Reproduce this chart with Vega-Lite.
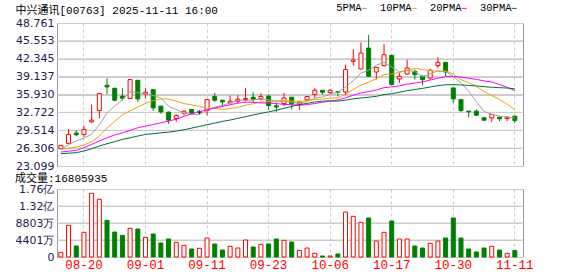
{
  "$schema": "https://vega.github.io/schema/vega-lite/v6.json",
  "background": "white",
  "padding": {"left": 14, "top": 3, "right": 4, "bottom": 0},
  "spacing": 0,
  "config": {
    "view": {"stroke": "#999999", "strokeWidth": 1},
    "axis": {"gridColor": "#cccccc", "gridWidth": 1, "labelFont": "DejaVu Sans", "labelFontSize": 11, "labelColor": "#1c1c4c", "labelOverlap": false},
    "line": {"strokeWidth": 1}
  },
  "datasets": {
    "pg": [{"p": 26.306}, {"p": 29.514}, {"p": 32.722}, {"p": 35.93}, {"p": 39.137}, {"p": 42.345}, {"p": 45.553}],
    "vg": [{"q": 44014000}, {"q": 88028000}, {"q": 132042000}],
    "k": [
      {"d":"08-15","o":26.2,"h":26.85,"l":26.15,"c":26.8,"v":12080000,"5PMA":26.2,"10PMA":26.08,"20PMA":25.61,"30PMA":25.31},
      {"d":"08-18","o":27.16,"h":29.72,"l":27.1,"c":28.77,"v":81990000,"5PMA":26.9,"10PMA":26.3,"20PMA":25.75,"30PMA":25.4},
      {"d":"08-19","o":29.0,"h":29.54,"l":28.47,"c":28.71,"v":28480000,"5PMA":27.6,"10PMA":26.5,"20PMA":25.9,"30PMA":25.49},
      {"d":"08-20","o":28.77,"h":30.32,"l":28.29,"c":29.66,"v":63870000,"5PMA":28.1,"10PMA":26.86,"20PMA":26.38,"30PMA":25.79},
      {"d":"08-21","o":31.03,"h":34.13,"l":30.85,"c":31.33,"v":164840000,"5PMA":28.8,"10PMA":27.46,"20PMA":26.98,"30PMA":26.2},
      {"d":"08-22","o":33.06,"h":36.2,"l":31.63,"c":36.1,"v":149300000,"5PMA":30.5,"10PMA":28.47,"20PMA":27.57,"30PMA":26.68},
      {"d":"08-25","o":37.59,"h":38.84,"l":36.04,"c":37.29,"v":94940000,"5PMA":32.6,"10PMA":29.9,"20PMA":28.17,"30PMA":27.1},
      {"d":"08-26","o":37.05,"h":37.1,"l":34.73,"c":34.9,"v":64720000,"5PMA":33.86,"10PMA":31.1,"20PMA":28.65,"30PMA":27.46},
      {"d":"08-27","o":35.62,"h":37.05,"l":34.85,"c":35.26,"v":56100000,"5PMA":34.98,"10PMA":32.3,"20PMA":29.06,"30PMA":27.87},
      {"d":"08-28","o":35.2,"h":38.65,"l":35.15,"c":38.6,"v":74220000,"5PMA":36.43,"10PMA":33.0,"20PMA":29.48,"30PMA":28.17},
      {"d":"08-29","o":38.48,"h":38.5,"l":34.61,"c":35.14,"v":72490000,"5PMA":36.24,"10PMA":33.7,"20PMA":29.96,"30PMA":28.47},
      {"d":"09-01","o":35.98,"h":37.05,"l":35.2,"c":36.34,"v":50920000,"5PMA":36.05,"10PMA":34.33,"20PMA":30.26,"30PMA":28.77},
      {"d":"09-02","o":36.81,"h":36.85,"l":33.0,"c":33.53,"v":59550000,"5PMA":35.77,"10PMA":34.82,"20PMA":30.55,"30PMA":28.89},
      {"d":"09-03","o":33.83,"h":33.95,"l":32.46,"c":32.82,"v":36250000,"5PMA":35.29,"10PMA":35.13,"20PMA":30.85,"30PMA":29.06},
      {"d":"09-04","o":32.76,"h":32.88,"l":30.67,"c":31.33,"v":46600000,"5PMA":33.83,"10PMA":35.13,"20PMA":31.15,"30PMA":29.18},
      {"d":"09-05","o":31.63,"h":32.34,"l":31.03,"c":32.16,"v":37970000,"5PMA":33.24,"10PMA":34.74,"20PMA":31.5,"30PMA":29.36},
      {"d":"09-08","o":32.58,"h":33.06,"l":32.16,"c":32.94,"v":30200000,"5PMA":32.56,"10PMA":34.3,"20PMA":32.0,"30PMA":29.6},
      {"d":"09-09","o":33.24,"h":33.3,"l":32.4,"c":32.58,"v":20710000,"5PMA":32.37,"10PMA":34.07,"20PMA":32.45,"30PMA":29.9},
      {"d":"09-10","o":32.8,"h":33.12,"l":32.34,"c":32.8,"v":22440000,"5PMA":32.36,"10PMA":33.82,"20PMA":32.85,"30PMA":30.2},
      {"d":"09-11","o":33.06,"h":35.14,"l":32.22,"c":35.02,"v":49190000,"5PMA":33.1,"10PMA":33.47,"20PMA":33.2,"30PMA":30.5},
      {"d":"09-12","o":35.56,"h":36.22,"l":34.61,"c":34.9,"v":33660000,"5PMA":33.65,"10PMA":33.44,"20PMA":33.51,"30PMA":30.8},
      {"d":"09-15","o":34.9,"h":34.95,"l":33.77,"c":34.61,"v":18120000,"5PMA":33.98,"10PMA":33.27,"20PMA":33.8,"30PMA":31.1},
      {"d":"09-16","o":34.43,"h":35.74,"l":34.37,"c":34.73,"v":27620000,"5PMA":34.41,"10PMA":33.39,"20PMA":34.1,"30PMA":31.35},
      {"d":"09-17","o":34.73,"h":35.8,"l":34.43,"c":35.08,"v":23300000,"5PMA":34.87,"10PMA":33.62,"20PMA":34.37,"30PMA":31.65},
      {"d":"09-18","o":35.02,"h":37.11,"l":34.73,"c":35.2,"v":44010000,"5PMA":34.9,"10PMA":34.0,"20PMA":34.57,"30PMA":31.95},
      {"d":"09-19","o":35.44,"h":36.34,"l":34.55,"c":35.08,"v":25890000,"5PMA":34.94,"10PMA":34.29,"20PMA":34.52,"30PMA":32.25},
      {"d":"09-22","o":35.14,"h":36.16,"l":34.85,"c":35.56,"v":32800000,"5PMA":35.13,"10PMA":34.56,"20PMA":34.43,"30PMA":32.55},
      {"d":"09-23","o":35.62,"h":35.92,"l":33.24,"c":33.96,"v":33660000,"5PMA":34.98,"10PMA":34.69,"20PMA":34.38,"30PMA":32.8},
      {"d":"09-24","o":33.9,"h":34.5,"l":32.8,"c":33.7,"v":46600000,"5PMA":34.7,"10PMA":34.78,"20PMA":34.3,"30PMA":33.1},
      {"d":"09-25","o":34.31,"h":36.21,"l":33.83,"c":35.31,"v":43150000,"5PMA":34.72,"10PMA":34.81,"20PMA":34.14,"30PMA":33.45},
      {"d":"09-26","o":35.44,"h":35.5,"l":33.24,"c":34.25,"v":38840000,"5PMA":34.56,"10PMA":34.75,"20PMA":34.1,"30PMA":33.8},
      {"d":"09-29","o":34.2,"h":34.73,"l":33.18,"c":34.55,"v":17260000,"5PMA":34.35,"10PMA":34.74,"20PMA":34.01,"30PMA":34.11},
      {"d":"09-30","o":34.96,"h":35.6,"l":34.67,"c":35.56,"v":23300000,"5PMA":34.67,"10PMA":34.83,"20PMA":34.11,"30PMA":34.34},
      {"d":"10-02","o":35.92,"h":37.11,"l":35.26,"c":36.69,"v":9500000,"5PMA":35.27,"10PMA":34.99,"20PMA":34.3,"30PMA":34.58},
      {"d":"10-03","o":36.69,"h":36.72,"l":35.92,"c":36.34,"v":2590000,"5PMA":35.48,"10PMA":35.1,"20PMA":34.55,"30PMA":34.74},
      {"d":"10-06","o":36.28,"h":36.93,"l":36.04,"c":36.69,"v":2590000,"5PMA":35.97,"10PMA":35.26,"20PMA":34.78,"30PMA":34.76},
      {"d":"10-08","o":36.45,"h":36.5,"l":35.6,"c":36.35,"v":7770000,"5PMA":36.33,"10PMA":35.34,"20PMA":34.95,"30PMA":34.73},
      {"d":"10-09","o":36.39,"h":41.28,"l":35.8,"c":40.39,"v":116500000,"5PMA":37.29,"10PMA":35.98,"20PMA":35.34,"30PMA":34.92},
      {"d":"10-10","o":41.88,"h":44.02,"l":41.1,"c":42.12,"v":105290000,"5PMA":38.38,"10PMA":36.83,"20PMA":35.8,"30PMA":35.14},
      {"d":"10-13","o":40.51,"h":45.28,"l":40.45,"c":43.37,"v":89760000,"5PMA":39.78,"10PMA":37.63,"20PMA":36.22,"30PMA":35.3},
      {"d":"10-14","o":44.26,"h":46.65,"l":39.15,"c":39.2,"v":100970000,"5PMA":40.29,"10PMA":38.13,"20PMA":36.44,"30PMA":35.44},
      {"d":"10-15","o":39.97,"h":40.85,"l":38.6,"c":40.81,"v":41420000,"5PMA":41.18,"10PMA":38.75,"20PMA":36.75,"30PMA":35.59},
      {"d":"10-16","o":41.1,"h":44.98,"l":40.98,"c":43.07,"v":63870000,"5PMA":41.71,"10PMA":39.5,"20PMA":37.16,"30PMA":35.91},
      {"d":"10-17","o":42.95,"h":43.07,"l":37.59,"c":37.71,"v":93200000,"5PMA":40.83,"10PMA":39.61,"20PMA":37.3,"30PMA":36.07},
      {"d":"10-20","o":38.72,"h":39.79,"l":38.0,"c":39.2,"v":46600000,"5PMA":40.0,"10PMA":39.89,"20PMA":37.5,"30PMA":36.33},
      {"d":"10-21","o":39.61,"h":42.18,"l":39.49,"c":40.69,"v":46600000,"5PMA":40.3,"10PMA":40.29,"20PMA":37.78,"30PMA":36.62},
      {"d":"10-22","o":40.09,"h":40.39,"l":38.6,"c":39.49,"v":28480000,"5PMA":40.03,"10PMA":40.61,"20PMA":37.97,"30PMA":36.83},
      {"d":"10-23","o":39.2,"h":39.32,"l":37.59,"c":38.6,"v":23300000,"5PMA":39.14,"10PMA":40.43,"20PMA":38.2,"30PMA":37.03},
      {"d":"10-24","o":38.9,"h":40.57,"l":38.6,"c":40.27,"v":35390000,"5PMA":39.65,"10PMA":40.24,"20PMA":38.53,"30PMA":37.28},
      {"d":"10-27","o":41.1,"h":42.6,"l":40.69,"c":41.7,"v":41420000,"5PMA":40.15,"10PMA":40.07,"20PMA":38.85,"30PMA":37.51},
      {"d":"10-28","o":41.7,"h":41.75,"l":39.2,"c":39.97,"v":49190000,"5PMA":40.01,"10PMA":40.15,"20PMA":39.14,"30PMA":37.68},
      {"d":"10-30","o":37.11,"h":37.15,"l":34.43,"c":35.14,"v":100970000,"5PMA":39.14,"10PMA":39.58,"20PMA":39.17,"30PMA":37.69},
      {"d":"10-31","o":35.02,"h":35.05,"l":32.82,"c":33.06,"v":49190000,"5PMA":38.03,"10PMA":38.58,"20PMA":39.04,"30PMA":37.64},
      {"d":"11-03","o":32.94,"h":32.96,"l":31.86,"c":32.82,"v":20710000,"5PMA":36.54,"10PMA":38.09,"20PMA":38.85,"30PMA":37.56},
      {"d":"11-04","o":32.94,"h":33.24,"l":32.04,"c":32.22,"v":12950000,"5PMA":34.64,"10PMA":37.4,"20PMA":38.64,"30PMA":37.46},
      {"d":"11-05","o":31.74,"h":31.92,"l":31.15,"c":31.33,"v":23300000,"5PMA":32.91,"10PMA":36.46,"20PMA":38.38,"30PMA":37.34},
      {"d":"11-06","o":31.74,"h":32.46,"l":31.03,"c":32.34,"v":27620000,"5PMA":32.35,"10PMA":35.75,"20PMA":38.18,"30PMA":37.23},
      {"d":"11-07","o":31.86,"h":31.88,"l":31.15,"c":31.57,"v":18120000,"5PMA":32.06,"10PMA":35.04,"20PMA":37.73,"30PMA":37.15},
      {"d":"11-10","o":31.63,"h":32.04,"l":31.15,"c":31.86,"v":9500000,"5PMA":31.86,"10PMA":34.2,"20PMA":37.22,"30PMA":37.09},
      {"d":"11-11","o":32.04,"h":32.06,"l":30.85,"c":31.27,"v":16805935,"5PMA":31.67,"10PMA":33.16,"20PMA":36.62,"30PMA":36.95}
    ]
  },
  "vconcat": [
    {
      "width": 466,
      "height": 143,
      "title": {"text": "中兴通讯[00763] 2025-11-11 16:00", "anchor": "start", "font": "Liberation Mono, Noto Sans CJK SC", "fontSize": 11, "fontWeight": "normal", "color": "#000000", "offset": 1},
      "layer": [
        {
          "data": {"name": "pg"},
          "mark": {"type": "rule", "color": "#cccccc", "strokeWidth": 1},
          "encoding": {
            "y": {"field": "p", "type": "quantitative"}
          }
        },
        {
          "data": {"name": "k"},
          "mark": {"type": "rule", "strokeWidth": 1},
          "encoding": {
            "x": {"field": "d", "type": "ordinal", "scale": {"type": "band", "paddingInner": 0, "paddingOuter": 0.28, "align": 0},
                  "axis": {"values": ["08-20","09-01","09-11","09-23","10-06","10-17","10-30","11-11"], "labels": false, "ticks": false, "domain": false, "grid": true, "gridDash": [3,3], "bandPosition": 0.5, "title": null, "minExtent": 0, "maxExtent": 0}},
            "y": {"field": "l", "type": "quantitative", "scale": {"domain": [23.099, 48.761], "nice": false, "zero": false},
                  "axis": {"values": [23.099, 26.306, 29.514, 32.722, 35.93, 39.137, 42.345, 45.553, 48.761], "tickCount": 20, "format": ".3f", "title": null, "ticks": false, "domain": false, "grid": true, "gridColor": "#cccccc", "labelOverlap": false, "labelFlush": false, "labelBound": false, "labelPadding": 3}},
            "y2": {"field": "h"},
            "stroke": {"condition": [{"test": "datum.c > datum.o", "value": "#ff0000"}, {"test": "datum.c < datum.o", "value": "#008000"}], "value": "#000000"}
          }
        },
        {
          "data": {"name": "k"},
          "mark": {"type": "bar", "size": 4, "strokeWidth": 1},
          "encoding": {
            "x": {"field": "d", "type": "ordinal", "scale": {"type": "band", "paddingInner": 0, "paddingOuter": 0.28, "align": 0}},
            "y": {"field": "o", "type": "quantitative"},
            "y2": {"field": "c"},
            "fill": {"condition": {"test": "datum.c >= datum.o", "value": "#ffffff"}, "value": "#008000"},
            "stroke": {"condition": [{"test": "datum.c > datum.o", "value": "#ff0000"}, {"test": "datum.c < datum.o", "value": "#008000"}], "value": "#000000"}
          }
        },
        {
          "data": {"name": "k"},
          "transform": [{"fold": ["5PMA", "10PMA", "20PMA", "30PMA"], "as": ["s", "ma"]}],
          "mark": {"type": "line", "strokeWidth": 1},
          "encoding": {
            "x": {"field": "d", "type": "ordinal", "scale": {"type": "band", "paddingInner": 0, "paddingOuter": 0.28, "align": 0}},
            "y": {"field": "ma", "type": "quantitative"},
            "color": {"field": "s", "type": "nominal",
                      "scale": {"domain": ["5PMA", "10PMA", "20PMA", "30PMA"], "range": ["#a0a0a0", "#f0a30a", "#ff00ff", "#006f3c"]},
                      "legend": {"title": null, "orient": "none", "direction": "horizontal", "legendX": 302, "legendY": -20, "padding": 0,
                                 "labelFont": "Liberation Mono", "labelFontSize": 10.5, "labelColor": "#000000", "labelAlign": "right", "labelOffset": -8,
                                 "symbolType": "stroke", "symbolSize": 25, "symbolStrokeWidth": 3, "columnPadding": 10}}
          }
        }
      ]
    },
    {
      "width": 466,
      "height": 68,
      "title": {"text": "成交量:16805935", "anchor": "start", "font": "Liberation Mono, Noto Sans CJK SC", "fontSize": 11, "fontWeight": "normal", "color": "#000000", "offset": -1},
      "layer": [
        {
          "data": {"name": "vg"},
          "mark": {"type": "rule", "color": "#cccccc", "strokeWidth": 1},
          "encoding": {
            "y": {"field": "q", "type": "quantitative"}
          }
        },
        {
          "data": {"name": "k"},
          "mark": {"type": "bar", "size": 4, "strokeWidth": 1},
          "encoding": {
            "x": {"field": "d", "type": "ordinal", "scale": {"type": "band", "paddingInner": 0, "paddingOuter": 0.28, "align": 0},
                  "axis": {"values": ["08-20","09-01","09-11","09-23","10-06","10-17","10-30","11-11"], "labelColor": "#ff0000", "labelFont": "Liberation Mono", "labelFontSize": 12.5, "labelAngle": 0, "ticks": false, "domain": false, "grid": true, "gridDash": [3,3], "bandPosition": 0.5, "title": null, "labelPadding": 1}},
            "y": {"field": "v", "type": "quantitative", "scale": {"domain": [0, 176056000], "nice": false},
                  "axis": {"values": [0, 44014000, 88028000, 132042000, 176056000], "tickCount": 20, "title": null, "ticks": false, "domain": false, "grid": true, "gridColor": "#cccccc", "labelOverlap": false, "labelFlush": false, "labelBound": false, "labelPadding": 3,
                           "labelExpr": "datum.value == 0 ? '0' : datum.value >= 1e8 ? format(datum.value / 1e8, '.2f') + '亿' : format(datum.value / 1e4, '.0f') + '万'"}},
            "fill": {"condition": {"test": "datum.c >= datum.o", "value": "#ffffff"}, "value": "#008000"},
            "stroke": {"condition": {"test": "datum.c >= datum.o", "value": "#ff0000"}, "value": "#008000"}
          }
        }
      ]
    }
  ]
}
